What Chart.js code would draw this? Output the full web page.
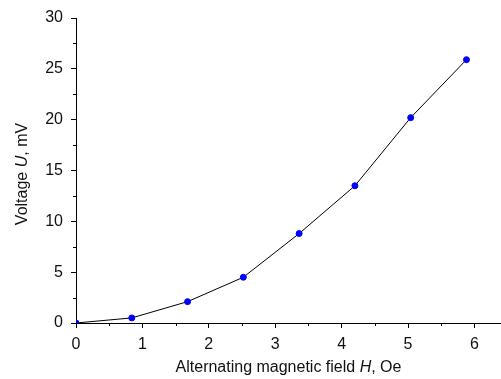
<!DOCTYPE html>
<html lang="en">
<head>
<meta charset="UTF-8">
<title>Voltage vs alternating magnetic field</title>
<script src="https://cdn.jsdelivr.net/npm/chart.js"></script>
<style>
    body { margin: 0; background: #fff; }
    #wrap { width: 501px; height: 379px; position: relative; }
</style>
</head>
<body>
<div id="wrap"><canvas id="grafico"></canvas></div>
<script>
    // data
    const fieldH = [0, 0.84, 1.68, 2.52, 3.36, 4.2, 5.04, 5.88];
    const voltageU = [0, 0.5, 2.1, 4.5, 8.8, 13.5, 20.2, 25.9];
    const xTitleParts = [["Alternating magnetic field ", false], ["H", true], [", Oe", false]];
    const yTitleParts = [["Voltage ", false], ["U", true], [", mV", false]];

    const FONT = "Arial, 'Liberation Sans', sans-serif";

    function drawParts(ctx, parts, size) {
        let total = 0;
        const widths = parts.map(p => {
            ctx.font = (p[1] ? "italic " : "") + size + "px " + FONT;
            const w = ctx.measureText(p[0]).width;
            total += w;
            return w;
        });
        let x = -total / 2;
        parts.forEach((p, i) => {
            ctx.font = (p[1] ? "italic " : "") + size + "px " + FONT;
            ctx.fillText(p[0], x, 0);
            x += widths[i];
        });
    }

    // minor ticks + axis titles with italic symbols
    const extras = {
        id: "extras",
        afterDraw(chart) {
            const ctx = chart.ctx;
            const a = chart.chartArea;
            const xs = chart.scales.x, ys = chart.scales.y;
            ctx.save();
            ctx.strokeStyle = "#000";
            ctx.lineWidth = 1;
            ctx.beginPath();
            for (let v = 0.5; v < xs.max; v += 1) {
                const px = Math.round(xs.getPixelForValue(v)) + 0.5;
                ctx.moveTo(px, a.bottom);
                ctx.lineTo(px, a.bottom + 3);
            }
            for (let v = 2.5; v < ys.max; v += 5) {
                const py = Math.round(ys.getPixelForValue(v)) + 0.5;
                ctx.moveTo(a.left, py);
                ctx.lineTo(a.left - 3, py);
            }
            ctx.stroke();

            ctx.fillStyle = "#111";
            ctx.textBaseline = "alphabetic";
            ctx.textAlign = "left";
            ctx.save();
            ctx.translate((a.left + a.right) / 2, 372);
            drawParts(ctx, xTitleParts, 16);
            ctx.restore();
            ctx.save();
            ctx.translate(27, 174);
            ctx.rotate(-Math.PI / 2);
            drawParts(ctx, yTitleParts, 16);
            ctx.restore();
            ctx.restore();
        }
    };

    new Chart(document.getElementById("grafico"), {
        type: "line",
        data: {
            datasets: [{
                data: fieldH.map((h, i) => ({ x: h, y: voltageU[i] })),
                borderColor: "#000",
                borderWidth: 1,
                backgroundColor: "#0000ff",
                pointBackgroundColor: "#0000ff",
                pointBorderColor: "#0000ff",
                pointRadius: 3,
                pointBorderWidth: 1,
                tension: 0
            }]
        },
        options: {
            responsive: true,
            maintainAspectRatio: false,
            animation: false,
            layout: { autoPadding: false, padding: { top: 18, right: 0, left: 0, bottom: 0 } },
            plugins: { legend: { display: false }, tooltip: { enabled: false } },
            scales: {
                x: {
                    type: "linear",
                    min: 0,
                    max: 6.4,
                    afterFit: s => { s.height = 56; s.paddingRight = 0; s.paddingLeft = 0; },
                    ticks: { stepSize: 1, includeBounds: false, color: "#111", padding: 7,
                             font: { family: FONT, size: 16 } },
                    grid: { drawOnChartArea: false, tickLength: 5, color: "#000" },
                    border: { color: "#000", width: 1 }
                },
                y: {
                    min: 0,
                    max: 30,
                    afterFit: s => { s.width = 76; },
                    ticks: { stepSize: 5, color: "#111", padding: 8,
                             font: { family: FONT, size: 16 } },
                    grid: { drawOnChartArea: false, tickLength: 5, color: "#000" },
                    border: { color: "#000", width: 1 }
                }
            }
        },
        plugins: [extras]
    });
</script>
</body>
</html>
